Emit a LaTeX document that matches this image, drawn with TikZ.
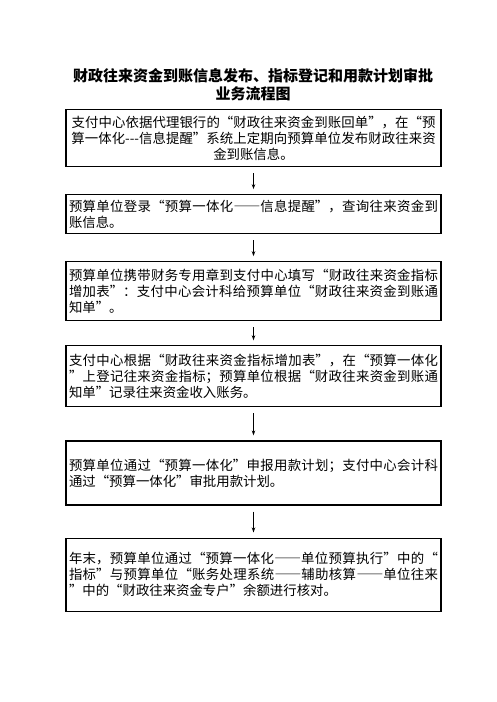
\documentclass[tikz,border=0pt]{standalone}
\usepackage{fontspec}
\newfontfamily\cjk[RawFeature=+fwid]{Noto Sans CJK SC}
\newfontfamily\cjkhalf{Noto Sans CJK SC}
\XeTeXlinebreaklocale "zh"
\XeTeXlinebreakskip=0pt plus 1pt
\usetikzlibrary{positioning,arrows.meta}

\tikzset{
  stepbox/.style={draw, line width=1.1pt, text width=369pt, inner xsep=3pt,
    inner ysep=2pt, align=justify, font=\cjk\fontsize{13.4pt}{16pt}\selectfont},
  flow/.style={-{Stealth[length=5pt,width=3.5pt]}, line width=0.8pt,
    shorten <=6pt, shorten >=5pt}
}

\begin{document}
\begin{tikzpicture}
  \useasboundingbox (0,0) rectangle (496pt,-702pt);

  \node[align=center, font=\cjk\bfseries\fontsize{15pt}{18pt}\selectfont] (title)
    at (253pt,-85pt) {财政往来资金到账信息发布、指标登记和用款计划审批\\业务流程图};

  \node[stepbox, align=center, minimum height=57pt, anchor=north] (s1)
    at (253.5pt,-109pt)
    {支付中心依据代理银行的“财政往来资金到账回单”，在“预\\
     算一体化{\cjkhalf -{}-{}-}信息提醒”系统上定期向预算单位发布财政往来资\\
     \mbox{金到账信息。}};
  \node[stepbox, minimum height=39pt] (s2) [below=27pt of s1]
    {预算单位登录“预算一体化——信息提醒”，查询往来资金到\linebreak
     账信息。};
  \node[stepbox, minimum height=59pt] (s3) [below=27pt of s2]
    {预算单位携带财务专用章到支付中心填写“财政往来资金指标\linebreak
     增加表”：支付中心会计科给预算单位“财政往来资金到账通\linebreak
     知单”。};
  \node[stepbox, minimum height=61pt] (s4) [below=24pt of s3]
    {支付中心根据“财政往来资金指标增加表”，在“预算一体化\linebreak
     ”上登记往来资金指标；预算单位根据“财政往来资金到账通\linebreak
     知单”记录往来资金收入账务。};
  \node[stepbox, minimum height=64pt] (s5) [below=33pt of s4]
    {预算单位通过“预算一体化”申报用款计划；支付中心会计科\linebreak
     通过“预算一体化”审批用款计划。};
  \node[stepbox, minimum height=73pt] (s6) [below=32pt of s5]
    {年末，预算单位通过“预算一体化——单位预算执行”中的“\linebreak
     指标”与预算单位“账务处理系统——辅助核算——单位往来\linebreak
     ”中的“财政往来资金专户”余额进行核对。};

  \foreach \a/\b in {s1/s2, s2/s3, s3/s4, s4/s5, s5/s6}
    \draw[flow] (\a) -- (\b);
\end{tikzpicture}
\end{document}
